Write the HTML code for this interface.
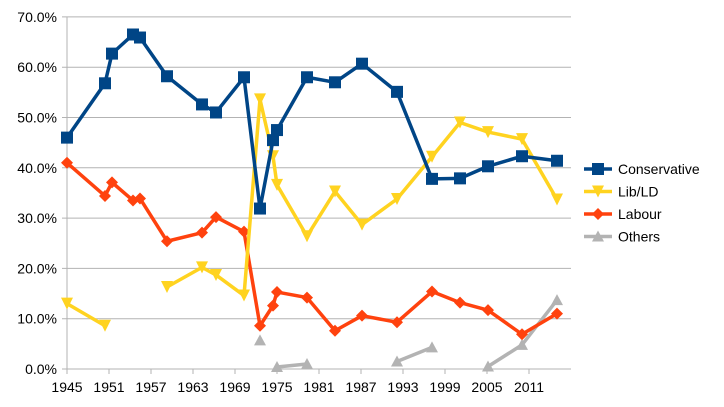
<!DOCTYPE html>
<html><head><meta charset="utf-8"><style>
html,body{margin:0;padding:0;background:#fff;width:724px;height:407px;overflow:hidden}
text{font-family:"Liberation Sans",sans-serif;font-size:14px;fill:#000}
</style></head><body>
<svg id="s" width="724" height="407" xmlns="http://www.w3.org/2000/svg"></svg>
<script>
const s=document.getElementById('s');let h='';
const Y=v=>369-v*5.03;
for(let i=0;i<=7;i++){const y=Y(i*10);h+=`<line x1="62" x2="571" y1="${y}" y2="${y}" stroke="#b3b3b3" stroke-width="1"/>`;
h+=`<text x="57" y="${y+5}" text-anchor="end">${(i*10).toFixed(1)}%</text>`;}
h+=`<line x1="67" x2="67" y1="17" y2="369" stroke="#b3b3b3"/>`;
const yrs=[1945,1951,1957,1963,1969,1975,1981,1987,1993,1999,2005,2011];
yrs.forEach((yr,i)=>{const x=67+(yr-1945)*7;h+=`<line x1="${x}" x2="${x}" y1="369" y2="374" stroke="#b3b3b3"/><text x="${x}" y="392" text-anchor="middle">${yr}</text>`;});
const X=[67,105,112,133,140,167,202,216,244,260,273,277,307,335,362,397,432,460,488,522,557];
const con=[46,56.8,62.7,66.5,65.9,58.2,52.6,51,58,31.9,45.5,47.5,58,57,60.7,55.1,37.8,37.9,40.3,42.3,41.4];
const lib=[13,8.6,null,null,null,16.3,20.2,18.7,14.6,53.6,42.3,36.6,26.4,35.3,28.7,33.8,42.2,49,47.1,45.7,33.7];
const lab=[41,34.4,37.1,33.5,33.9,25.4,27.1,30.2,27.3,8.6,12.6,15.3,14.2,7.6,10.6,9.3,15.4,13.2,11.7,6.9,11];
const oth=[null,null,null,null,null,null,null,null,null,5.7,null,0.4,1.0,null,null,1.5,4.3,null,0.5,4.8,13.7];
function mk(t,x,y,c){
 if(t=='sq')return `<rect x="${x-6}" y="${y-6}" width="12" height="12" fill="${c}"/>`;
 if(t=='dn')return `<polygon points="${x-6},${y-6} ${x+6},${y-6} ${x},${y+6}" fill="${c}"/>`;
 if(t=='di')return `<polygon points="${x},${y-6} ${x+6},${y} ${x},${y+6} ${x-6},${y}" fill="${c}"/>`;
 return `<polygon points="${x-6},${y+5} ${x+6},${y+5} ${x},${y-6}" fill="${c}"/>`;}
function ser(d,c,t){let segs=[],cur=[];d.forEach((v,i)=>{if(v==null){if(cur.length)segs.push(cur);cur=[];}else cur.push([X[i],Y(v)]);});if(cur.length)segs.push(cur);
 segs.forEach(sg=>{if(sg.length>1)h+=`<polyline points="${sg.map(p=>p.join(',')).join(' ')}" fill="none" stroke="${c}" stroke-width="3.5" stroke-linejoin="round"/>`;});
 d.forEach((v,i)=>{if(v!=null)h+=mk(t,X[i],Y(v),c);});}
ser(oth,'#b3b3b3','up');ser(lab,'#ff420e','di');ser(lib,'#ffd320','dn');ser(con,'#004586','sq');
const L=[['Conservative','#004586','sq'],['Lib/LD','#ffd320','dn'],['Labour','#ff420e','di'],['Others','#b3b3b3','up']];
L.forEach((l,i)=>{const y=169+i*22.5;h+=`<line x1="584" x2="612" y1="${y}" y2="${y}" stroke="${l[1]}" stroke-width="3.5"/>`+mk(l[2],598,y,l[1])+`<text x="618" y="${y+5}">${l[0]}</text>`;});
s.innerHTML=h;
</script>
</body></html>
